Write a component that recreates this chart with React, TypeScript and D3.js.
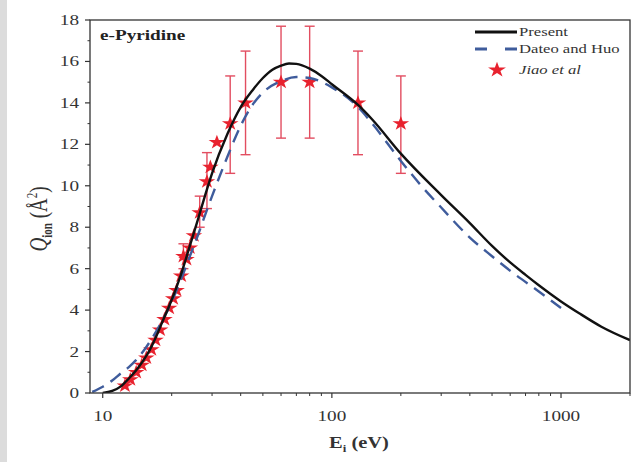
import React from "react";
import * as d3 from "d3";

// Present (solid black)
const presentE = [10, 11, 12, 13, 14, 15, 16, 17, 18, 20, 22, 24, 26, 28, 30, 35, 40, 45, 50, 55, 60, 65, 70, 80, 90, 100, 130, 150, 200, 300, 400, 500, 600, 700, 800, 900, 1000, 1200, 1500, 2000];
const presentQ = [0.0, 0.1, 0.32, 0.7, 1.1, 1.55, 2.05, 2.65, 3.3, 4.5, 5.75, 7.1, 8.35, 9.55, 10.6, 12.5, 13.8, 14.6, 15.2, 15.6, 15.8, 15.9, 15.88, 15.65, 15.3, 14.9, 13.9, 13.2, 11.55, 9.55, 8.2, 7.1, 6.3, 5.7, 5.2, 4.78, 4.42, 3.85, 3.2, 2.55];

// Dateo and Huo (dashed blue)
const dateoE = [9, 10, 11, 12, 13, 14, 15, 16, 18, 20, 22, 24, 26, 28, 30, 35, 40, 45, 50, 60, 70, 80, 100, 130, 150, 200, 250, 300, 400, 500, 600, 800, 1000];
const dateoQ = [0.05, 0.3, 0.6, 0.95, 1.25, 1.6, 2.0, 2.45, 3.4, 4.4, 5.5, 6.6, 7.6, 8.6, 9.5, 11.4, 12.9, 13.9, 14.5, 15.05, 15.25, 15.2, 14.75, 13.8, 13.0, 11.2, 9.9, 8.95, 7.5, 6.6, 5.9, 4.9, 4.1];

// Jiao et al (stars with error bars)
const jiaoE = [12.5, 13.2, 14, 14.8, 15.5, 16.3, 17, 17.8, 18.6, 19.5, 20.3, 21, 22, 22.5, 23.2, 24, 25, 26.5, 28.5, 29.5, 31.5, 36, 42, 60, 80, 130, 200];
const jiaoQ = [0.35, 0.65, 1.0, 1.35, 1.7, 2.1, 2.55, 3.05, 3.55, 4.1, 4.55, 4.95, 5.65, 6.6, 6.45, 7.0, 7.6, 8.7, 10.2, 10.9, 12.1, 13.0, 14.0, 15.0, 15.0, 14.0, 13.0];
const jiaoLo = [null, null, null, null, null, null, null, null, null, null, null, null, null, 6.0, null, null, null, 8.0, 8.9, null, null, 10.6, 11.5, 12.3, 12.3, 11.5, 10.6];
const jiaoHi = [null, null, null, null, null, null, null, null, null, null, null, null, null, 7.2, null, null, null, 9.5, 11.6, null, null, 15.3, 16.5, 17.7, 17.7, 16.5, 15.3];

const yTicks = [0, 2, 4, 6, 8, 10, 12, 14, 16, 18];
const yMinor = [1, 3, 5, 7, 9, 11, 13, 15, 17];
const xTicks = [10, 100, 1000];
const xMinor = [20, 30, 40, 50, 60, 70, 80, 90, 200, 300, 400, 500, 600, 700, 800, 900, 2000];

const W = 643, H = 462;
const L = 90, R = 630, T = 20, B = 393;
const FONT = "'Liberation Serif', 'DejaVu Serif', serif";
const BLUE = "#3f5c9c";
const RED = "#e8222e";
const ERR = "#e24d60";
const SX = 1.28; // horizontal stretch of the reference's text

function SText(props: any) {
  const { x, y, anchor, children, ...rest } = props;
  return (
    <text transform={`translate(${x},${y}) scale(${SX},1)`} textAnchor={anchor || "start"} {...rest}>
      {children}
    </text>
  );
}

export default function App() {
  const x = d3.scaleLog().domain([8.8, 2000]).range([L, R]);
  const y = d3.scaleLinear().domain([0, 18]).range([B, T]);

  const line = d3
    .line<[number, number]>()
    .x((d) => x(d[0]))
    .y((d) => y(d[1]))
    .curve(d3.curveMonotoneX);

  const presentPath = line(presentE.map((e, i) => [e, presentQ[i]]) as [number, number][]) || "";
  const dateoPath = line(dateoE.map((e, i) => [e, dateoQ[i]]) as [number, number][]) || "";
  const star = d3.symbol().type(d3.symbolStar).size(65)() || "";
  const starLeg = d3.symbol().type(d3.symbolStar).size(75)() || "";

  return (
    <svg width={W} height={H} style={{ position: "absolute", left: 0, top: 0, background: "#fff" }} fontFamily={FONT}>
      <rect x={0} y={0} width={W} height={H} fill="#fff" />
      <rect x={0} y={0} width={7} height={H} fill="#dcdcdc" />
      <defs>
        <clipPath id="plot">
          <rect x={L} y={T} width={R - L} height={B - T} />
        </clipPath>
      </defs>

      <g clipPath="url(#plot)">
        {jiaoE.map((e, i) =>
          jiaoLo[i] != null ? (
            <g key={"eb" + i} stroke={ERR} strokeWidth={1.4} fill="none">
              <line x1={x(e)} x2={x(e)} y1={y(jiaoLo[i] as number)} y2={y(jiaoHi[i] as number)} />
              <line x1={x(e) - 5} x2={x(e) + 5} y1={y(jiaoLo[i] as number)} y2={y(jiaoLo[i] as number)} />
              <line x1={x(e) - 5} x2={x(e) + 5} y1={y(jiaoHi[i] as number)} y2={y(jiaoHi[i] as number)} />
            </g>
          ) : null
        )}
        {jiaoE.map((e, i) => (
          <path key={"st" + i} d={star} transform={`translate(${x(e)},${y(jiaoQ[i])}) scale(1.15,1)`} fill={RED} />
        ))}
        <path d={dateoPath} fill="none" stroke={BLUE} strokeWidth={2.4} strokeDasharray="13,8" />
        <path d={presentPath} fill="none" stroke="#111" strokeWidth={2.4} />
      </g>

      <rect x={L} y={T} width={R - L} height={B - T} fill="none" stroke="#333" strokeWidth={1.3} />

      {yTicks.map((v) => (
        <g key={"yt" + v}>
          <line x1={L - 5} x2={L} y1={y(v)} y2={y(v)} stroke="#333" strokeWidth={1.2} />
          <SText x={L - 11} y={y(v) + 5} anchor="end" fontSize={15} fill="#333">{v}</SText>
        </g>
      ))}
      {yMinor.map((v) => (
        <line key={"ym" + v} x1={L - 2.5} x2={L} y1={y(v)} y2={y(v)} stroke="#333" strokeWidth={1} />
      ))}

      {xTicks.map((v) => (
        <g key={"xt" + v}>
          <line x1={x(v)} x2={x(v)} y1={B} y2={B + 5} stroke="#333" strokeWidth={1.2} />
          <SText x={x(v)} y={421} anchor="middle" fontSize={15} fill="#333">{v}</SText>
        </g>
      ))}
      {xMinor.map((v) => (
        <line key={"xm" + v} x1={x(v)} x2={x(v)} y1={B} y2={B + 3} stroke="#333" strokeWidth={1} />
      ))}

      <SText x={100} y={40} fontSize={15} fontWeight="bold" fill="#222">e-Pyridine</SText>

      <SText x={359} y={448} anchor="middle" fontSize={16} fontWeight="bold" fill="#333">
        E<tspan fontSize={10} dy={4}>i</tspan>
        <tspan dy={-4}> (eV)</tspan>
      </SText>
      <text transform={`translate(47,219) scale(${SX},1) rotate(-90)`} textAnchor="middle" fontSize={19} fill="#333">
        <tspan fontStyle="italic">Q</tspan>
        <tspan fontSize={11} dy={4} fontWeight="bold">ion</tspan>
        <tspan dy={-4}> (Å</tspan>
        <tspan fontSize={11} dy={-8}>2</tspan>
        <tspan dy={8}>)</tspan>
      </text>

      <line x1={475} x2={517} y1={32} y2={32} stroke="#111" strokeWidth={2.8} />
      <SText x={519} y={36} fontSize={13} fill="#333">Present</SText>
      <line x1={475} x2={517} y1={49} y2={49} stroke={BLUE} strokeWidth={2.8} strokeDasharray="12,18" />
      <SText x={519} y={53} fontSize={13} fill="#333">Dateo and Huo</SText>
      <path d={starLeg} transform="translate(497,70) scale(1.15,1)" fill={RED} />
      <SText x={519} y={74} fontSize={13} fontStyle="italic" fill="#333">Jiao et al</SText>
    </svg>
  );
}
